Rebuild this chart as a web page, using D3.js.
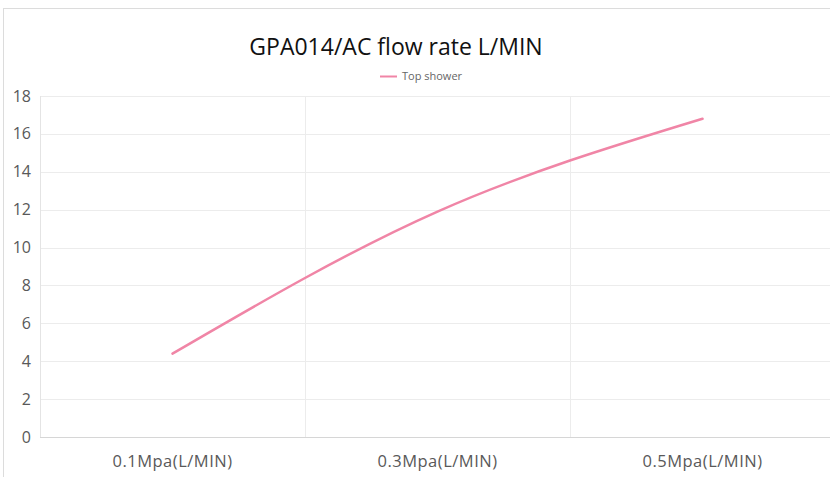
<!DOCTYPE html>
<html>
<head>
<meta charset="utf-8">
<script src="https://cdn.jsdelivr.net/npm/d3@7"></script>
<style>
  body { margin: 0; background: #fff; }
  svg { display: block; font-family: "Open Sans", "Noto Sans", sans-serif; }
</style>
</head>
<body>
<svg id="chart" width="830" height="477"></svg>
<script>
var categories = ['0.1Mpa(L/MIN)', '0.3Mpa(L/MIN)', '0.5Mpa(L/MIN)'];
var topShower = [4.4, 11.9, 16.8];
var yTicks = [0, 2, 4, 6, 8, 10, 12, 14, 16, 18];
var seriesName = 'Top shower';
var title = 'GPA014/AC flow rate L/MIN';

(function() {
  var svg = d3.select('#chart');
  var mLeft = 40, mRight = 835, mTop = 96, mBottom = 437;

  // outer frame
  svg.append('rect')
    .attr('x', 3.5).attr('y', 8.5)
    .attr('width', 840).attr('height', 480)
    .attr('fill', 'none')
    .attr('stroke', '#dcdcdc');

  var x = d3.scaleBand().domain(categories).range([mLeft, mRight]);
  var y = d3.scaleLinear().domain([0, 18]).range([mBottom, mTop]);

  // horizontal grid
  svg.append('g')
    .selectAll('line')
    .data(yTicks.filter(function(d) { return d > 0; }))
    .enter().append('line')
    .attr('x1', mLeft).attr('x2', mRight)
    .attr('y1', function(d) { return Math.round(y(d)) + 0.5; })
    .attr('y2', function(d) { return Math.round(y(d)) + 0.5; })
    .attr('stroke', '#ececec');

  // vertical grid at band boundaries
  svg.append('g')
    .selectAll('line')
    .data(categories.slice(1))
    .enter().append('line')
    .attr('x1', function(d) { return Math.round(x(d)) + 0.5; })
    .attr('x2', function(d) { return Math.round(x(d)) + 0.5; })
    .attr('y1', mTop).attr('y2', mBottom)
    .attr('stroke', '#ececec');

  // y axis line
  svg.append('line')
    .attr('x1', mLeft + 0.5).attr('x2', mLeft + 0.5)
    .attr('y1', mTop).attr('y2', mBottom)
    .attr('stroke', '#e4e4e4');

  // x axis line
  svg.append('line')
    .attr('x1', mLeft).attr('x2', mRight)
    .attr('y1', mBottom + 0.5).attr('y2', mBottom + 0.5)
    .attr('stroke', '#d6d6d6');

  // y labels
  svg.append('g')
    .selectAll('text')
    .data(yTicks)
    .enter().append('text')
    .attr('x', 31)
    .attr('y', function(d) { return y(d); })
    .attr('dy', '0.35em')
    .attr('text-anchor', 'end')
    .attr('font-size', 16)
    .attr('fill', '#595959')
    .text(function(d) { return d; });

  // x labels
  svg.append('g')
    .selectAll('text')
    .data(categories)
    .enter().append('text')
    .attr('x', function(d) { return x(d) + x.bandwidth() / 2; })
    .attr('y', 467)
    .attr('text-anchor', 'middle')
    .attr('font-size', 16.5)
    .attr('letter-spacing', 0.5)
    .attr('fill', '#595959')
    .text(function(d) { return d; });

  // series line
  var line = d3.line()
    .x(function(d, i) { return x(categories[i]) + x.bandwidth() / 2; })
    .y(function(d) { return y(d); })
    .curve(d3.curveMonotoneX);

  svg.append('path')
    .datum(topShower)
    .attr('d', line)
    .attr('fill', 'none')
    .attr('stroke', '#f085a6')
    .attr('stroke-width', 2.5)
    .attr('stroke-linecap', 'round');

  // title
  svg.append('text')
    .attr('x', 396)
    .attr('y', 55)
    .attr('text-anchor', 'middle')
    .attr('font-size', 23)
    .attr('fill', '#111')
    .text(title);

  // legend
  svg.append('line')
    .attr('x1', 380).attr('x2', 397)
    .attr('y1', 76.5).attr('y2', 76.5)
    .attr('stroke', '#f085a6')
    .attr('stroke-width', 2);
  svg.append('text')
    .attr('x', 402)
    .attr('y', 80)
    .attr('font-size', 11)
    .attr('fill', '#666')
    .text(seriesName);
})();
</script>
</body>
</html>
